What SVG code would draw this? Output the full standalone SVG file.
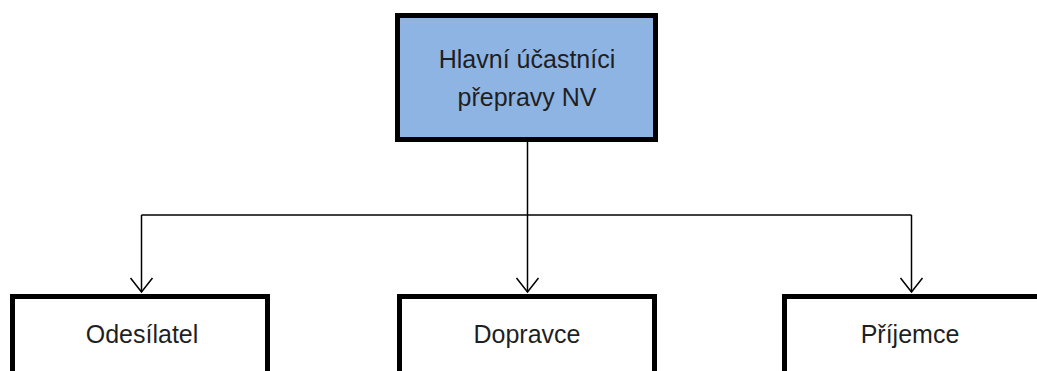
<svg xmlns="http://www.w3.org/2000/svg" width="1037" height="371" viewBox="0 0 1037 371">
<defs>
<style>
.box{stroke:#000;stroke-width:5;}
.lbl{font-family:"Liberation Sans",Arial,sans-serif;font-size:25px;fill:#1f1f1f;text-anchor:middle;}
.conn{stroke:#000;stroke-width:1.5;fill:none;}
</style>
<marker id="arr" markerWidth="30" markerHeight="30" refX="15" refY="15" orient="auto" markerUnits="userSpaceOnUse">
<path d="M1,4 L15,15 L1,26" fill="none" stroke="#000" stroke-width="1.5"/>
</marker>
</defs>
<rect width="1037" height="371" fill="#fff"/>
<g id="connectors">
<line class="conn" x1="527.5" y1="142" x2="527.5" y2="215"/>
<line class="conn" x1="141.5" y1="215" x2="911.5" y2="215"/>
<line class="conn" x1="141.5" y1="215" x2="141.5" y2="292" marker-end="url(#arr)"/>
<line class="conn" x1="527.5" y1="215" x2="527.5" y2="292" marker-end="url(#arr)"/>
<line class="conn" x1="911.5" y1="215" x2="911.5" y2="292" marker-end="url(#arr)"/>
</g>
<g id="node-top">
<rect class="box" x="397.5" y="15.5" width="258" height="124" fill="#8EB4E3"/>
<text class="lbl" x="527" y="68">Hlavní účastníci</text>
<text class="lbl" x="527" y="106">přepravy NV</text>
</g>
<g id="node-odesilatel">
<rect class="box" x="12.5" y="296.5" width="255" height="90" fill="#fff"/>
<text class="lbl" x="142" y="343">Odesílatel</text>
</g>
<g id="node-dopravce">
<rect class="box" x="399.5" y="296.5" width="255" height="90" fill="#fff"/>
<text class="lbl" x="527" y="343">Dopravce</text>
</g>
<g id="node-prijemce">
<rect class="box" x="784.5" y="296.5" width="255" height="90" fill="#fff"/>
<text class="lbl" x="910" y="343">Příjemce</text>
</g>
</svg>
